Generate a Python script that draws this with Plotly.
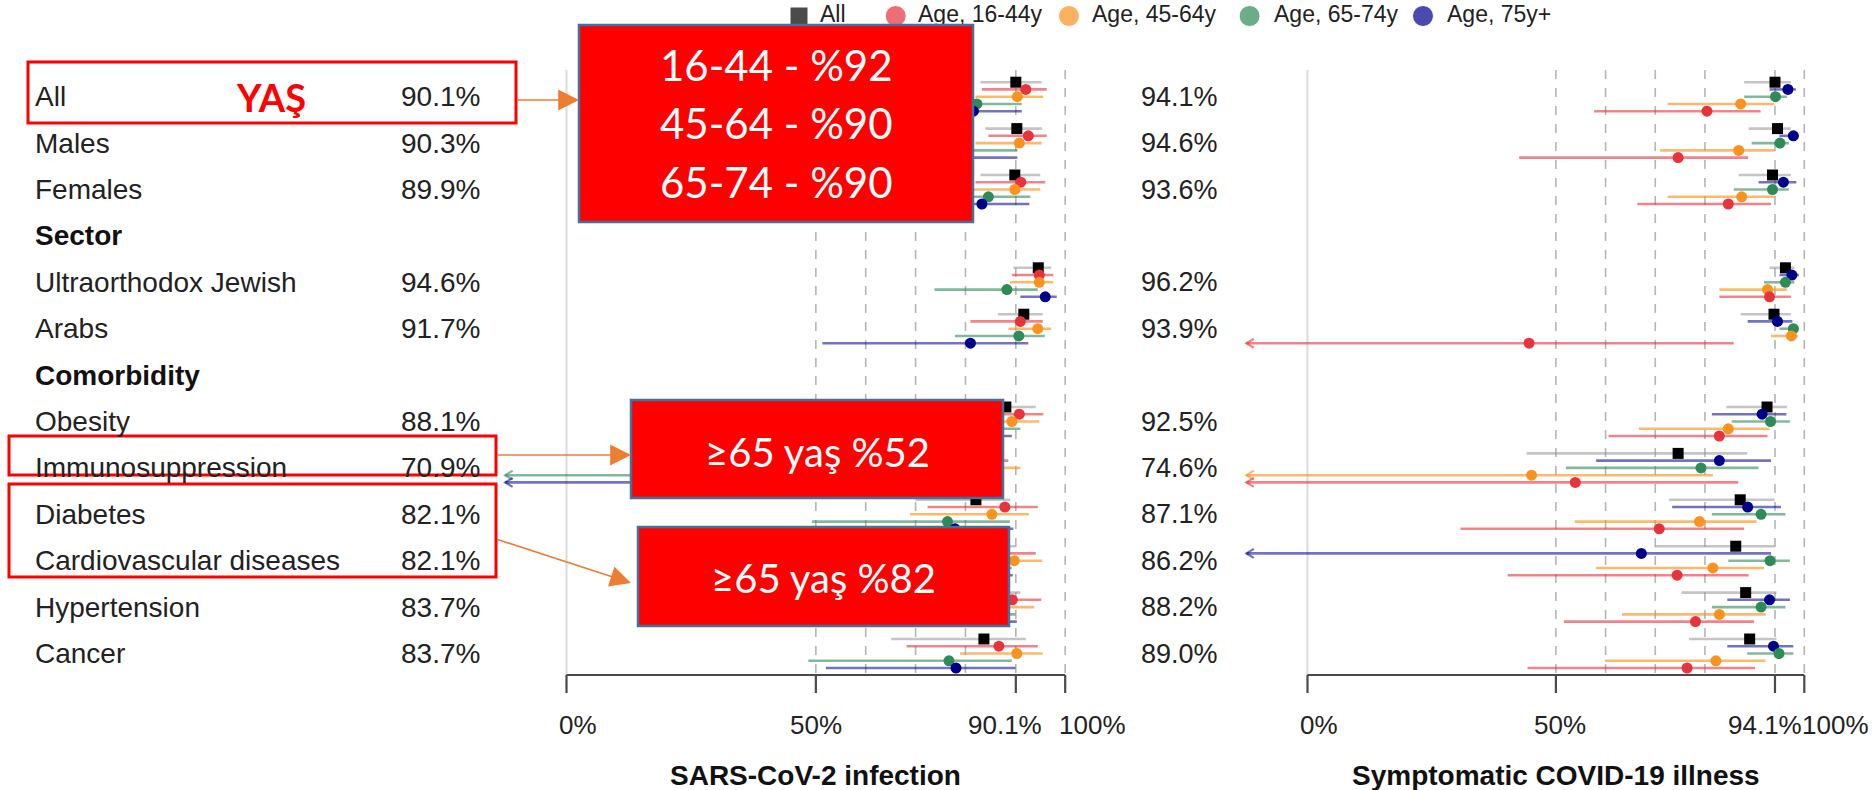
import plotly.graph_objects as go

# ---------------------------------------------------------------- data
ROWS = ["All", "Males", "Females", "Sector", "Ultraorthodox Jewish", "Arabs",
        "Comorbidity", "Obesity", "Immunosuppression", "Diabetes",
        "Cardiovascular diseases", "Hypertension", "Cancer"]
HEADERS = ["Sector", "Comorbidity"]
SUBGROUPS = [r for r in ROWS if r not in HEADERS]

GROUPS = ["All", "Age, 16-44y", "Age, 45-64y", "Age, 65-74y", "Age, 75y+"]

# SARS-CoV-2 infection (left panel)
inf_all = [90.1, 90.3, 89.9, 94.6, 91.7, 88.1, 70.9, 82.1, 82.1, 83.7, 83.7]
inf_all_lo = [83.0, 84.0, 83.0, 89.6, 86.5, 80.0, 45.0, 70.0, 68.0, 70.0, 65.1]
inf_all_hi = [95.3, 95.3, 95.0, 97.2, 95.5, 94.1, 84.0, 89.0, 90.0, 91.0, 92.1]

inf_16_44 = [92.1, 92.6, 91.1, 94.8, 91.0, 90.8, 80.0, 87.9, 87.0, 89.4, 86.7]
inf_16_44_lo = [83.3, 84.6, 82.0, 89.3, 81.0, 78.0, 60.0, 72.4, 70.0, 72.0, 68.2]
inf_16_44_hi = [96.3, 96.3, 96.0, 97.6, 95.5, 95.6, 88.6, 94.5, 94.1, 95.2, 94.5]

inf_45_64 = [90.4, 90.8, 89.9, 94.8, 94.5, 89.3, 82.0, 85.3, 89.8, 87.0, 90.3]
inf_45_64_lo = [82.0, 82.0, 80.0, 88.9, 88.6, 80.0, 65.0, 68.9, 78.0, 70.0, 78.9]
inf_45_64_hi = [95.6, 95.3, 95.0, 97.6, 97.2, 94.8, 91.0, 92.7, 95.4, 93.8, 95.5]

inf_65_74 = [82.3, 78.0, 84.6, 88.3, 90.7, 86.0, 52.0, 76.4, 80.0, 80.0, 76.7]
inf_65_74_lo = [70.0, 60.0, 72.0, 73.8, 77.9, 72.0, -40.0, 49.2, 50.0, 55.0, 48.5]
inf_65_74_hi = [91.3, 90.4, 93.0, 94.5, 95.9, 91.0, 80.0, 88.9, 89.3, 90.0, 89.3]

inf_75 = [81.6, 76.0, 83.3, 96.0, 81.0, 84.0, 48.0, 77.9, 78.0, 78.0, 78.1]
inf_75_lo = [65.0, 55.0, 70.0, 91.0, 51.3, 70.0, -45.0, 52.0, 52.0, 55.0, 52.0]
inf_75_hi = [91.3, 90.4, 92.8, 98.3, 92.6, 89.3, 78.0, 89.6, 89.5, 90.3, 90.0]

# Symptomatic COVID-19 illness (right panel)
sym_all = [94.1, 94.6, 93.6, 96.2, 93.9, 92.5, 74.6, 87.1, 86.2, 88.2, 89.0]
sym_all_lo = [87.9, 88.8, 86.8, 93.0, 87.2, 84.3, 44.1, 72.8, 70.0, 75.3, 76.8]
sym_all_hi = [97.3, 97.3, 97.3, 98.0, 97.3, 96.5, 88.5, 94.0, 94.0, 94.4, 94.4]

sym_16_44 = [80.4, 74.6, 84.7, 93.0, 44.6, 82.9, 53.9, 70.8, 74.4, 78.1, 76.4]
sym_16_44_lo = [57.7, 42.6, 66.4, 82.9, -60.0, 60.6, -30.0, 30.8, 40.3, 51.6, 44.3]
sym_16_44_hi = [91.2, 88.7, 93.3, 97.3, 85.8, 92.6, 86.7, 87.9, 88.8, 89.9, 90.1]

sym_45_64 = [87.2, 86.8, 87.4, 92.6, 97.4, 84.7, 45.1, 78.9, 81.6, 82.9, 82.2]
sym_45_64_lo = [72.5, 71.0, 72.5, 82.9, 93.3, 66.7, -40.0, 53.8, 58.1, 63.3, 59.9]
sym_45_64_hi = [94.0, 94.0, 94.0, 96.5, 98.7, 93.0, 81.6, 90.4, 91.9, 92.2, 92.2]

sym_65_74 = [94.2, 95.1, 93.6, 96.2, 97.8, 93.2, 79.2, 91.3, 93.1, 91.3, 94.9]
sym_65_74_lo = [87.9, 89.4, 85.8, 91.9, 95.0, 85.4, 52.0, 81.4, 84.7, 81.4, 88.5]
sym_65_74_hi = [96.5, 96.9, 96.9, 98.0, 98.9, 97.1, 90.8, 96.2, 97.1, 96.2, 97.8]

sym_75 = [96.7, 97.8, 95.8, 97.5, 94.6, 91.5, 82.9, 88.6, 67.2, 93.0, 93.8]
sym_75_lo = [93.0, 95.0, 90.8, 95.0, 88.6, 81.4, 58.1, 73.4, -20.0, 84.5, 84.5]
sym_75_hi = [98.3, 98.9, 98.4, 98.9, 97.6, 96.4, 93.3, 95.3, 93.3, 97.1, 97.8]

INF_TICKS = [0, 50, 90.1, 100]
INF_TICK_TEXT = ["0%", "50%", "90.1%", "100%"]
SYM_TICKS = [0, 50, 94.1, 100]
SYM_TICK_TEXT = ["0%", "50%", "94.1%", "100%"]
INF_GRID = [50, 60, 70, 80, 90.1, 100]
SYM_GRID = [50, 60, 70, 80, 94.1, 100]

# ---------------------------------------------------------------- style
W, H = 1875, 790
ROW_Y0, ROW_STEP = 96.7, 46.4          # pixel centre of first row, row pitch
AXIS_MIN = -12.3                       # lower CI truncation (arrow tip)
FONT = "Liberation Sans, Arial, sans-serif"
BOX_FONT = "Lato, Calibri, sans-serif"

MARKER_COL = {"All": "#000000", "Age, 16-44y": "#E8323C", "Age, 45-64y": "#F7931E",
              "Age, 65-74y": "#2E8B57", "Age, 75y+": "#00008B"}
LINE_COL = {"All": "rgba(150,150,150,0.55)", "Age, 16-44y": "rgba(232,50,60,0.6)",
            "Age, 45-64y": "rgba(247,147,30,0.65)", "Age, 65-74y": "rgba(46,139,87,0.6)",
            "Age, 75y+": "rgba(0,0,139,0.55)"}


def r2px(r):
    return ROW_Y0 + ROW_STEP * r


def px2r(y):
    return (y - ROW_Y0) / ROW_STEP


ROW_IDX = [ROWS.index(s) for s in SUBGROUPS]

panels = [
    dict(xa="x", est={"All": inf_all, "Age, 16-44y": inf_16_44, "Age, 45-64y": inf_45_64,
                      "Age, 65-74y": inf_65_74, "Age, 75y+": inf_75},
         lo={"All": inf_all_lo, "Age, 16-44y": inf_16_44_lo, "Age, 45-64y": inf_45_64_lo,
             "Age, 65-74y": inf_65_74_lo, "Age, 75y+": inf_75_lo},
         hi={"All": inf_all_hi, "Age, 16-44y": inf_16_44_hi, "Age, 45-64y": inf_45_64_hi,
             "Age, 65-74y": inf_65_74_hi, "Age, 75y+": inf_75_hi},
         order=["All", "Age, 16-44y", "Age, 45-64y", "Age, 65-74y", "Age, 75y+"],
         ticks=INF_TICKS, ticktext=INF_TICK_TEXT, grid=INF_GRID,
         tick_shift=[12, 0, -11, 27], title="SARS-CoV-2 infection",
         px0=566.5, ppu=4.987),
    dict(xa="x2", est={"All": sym_all, "Age, 16-44y": sym_16_44, "Age, 45-64y": sym_45_64,
                       "Age, 65-74y": sym_65_74, "Age, 75y+": sym_75},
         lo={"All": sym_all_lo, "Age, 16-44y": sym_16_44_lo, "Age, 45-64y": sym_45_64_lo,
             "Age, 65-74y": sym_65_74_lo, "Age, 75y+": sym_75_lo},
         hi={"All": sym_all_hi, "Age, 16-44y": sym_16_44_hi, "Age, 45-64y": sym_45_64_hi,
             "Age, 65-74y": sym_65_74_hi, "Age, 75y+": sym_75_hi},
         order=["All", "Age, 75y+", "Age, 65-74y", "Age, 45-64y", "Age, 16-44y"],
         ticks=SYM_TICKS, ticktext=SYM_TICK_TEXT, grid=SYM_GRID,
         tick_shift=[12, 4, -10, 31], title="Symptomatic COVID-19 illness",
         px0=1307.5, ppu=4.968),
]

X_RANGE = [-13, 106]

fig = go.Figure()
shapes, annotations = [], []

GRID_TOP = px2r(70)
BASE = px2r(675)
TICK_BOT = px2r(693)

for p in panels:
    xa = p["xa"]
    offsets = [-0.3125, -0.157, 0.0, 0.157, 0.3125]
    for k, g in enumerate(p["order"]):
        ys = [ROW_IDX[i] + offsets[k] for i in range(len(SUBGROUPS))]
        lx, ly, cx, cy = [], [], [], []
        chev_dx = 1.5 * 4.98 / p["ppu"]
        chev_dy = 4.5 / ROW_STEP
        for i, y in enumerate(ys):
            lo, hi = p["lo"][g][i], p["hi"][g][i]
            start = max(lo, AXIS_MIN)
            lx += [start, hi, None]
            ly += [y, y, None]
            if lo < AXIS_MIN:
                cx += [AXIS_MIN + chev_dx, AXIS_MIN, AXIS_MIN + chev_dx, None]
                cy += [y - chev_dy, y, y + chev_dy, None]
        fig.add_trace(go.Scatter(x=lx, y=ly, mode="lines", xaxis=xa, yaxis="y",
                                 line=dict(color=LINE_COL[g], width=2.6),
                                 hoverinfo="skip", showlegend=False))
        if cx:
            fig.add_trace(go.Scatter(x=cx, y=cy, mode="lines", xaxis=xa, yaxis="y",
                                     line=dict(color=LINE_COL[g], width=2.2),
                                     hoverinfo="skip", showlegend=False))
        fig.add_trace(go.Scatter(
            x=p["est"][g], y=ys, mode="markers", xaxis=xa, yaxis="y", name=g,
            marker=dict(color=MARKER_COL[g], size=11,
                        symbol="square" if g == "All" else "circle"),
            showlegend=False, cliponaxis=False))

    # zero line and dashed reference lines
    shapes.append(dict(type="line", xref=xa, yref="y", x0=0, x1=0, y0=GRID_TOP, y1=BASE,
                       line=dict(color="#DADADA", width=2), layer="below"))
    for gx in p["grid"]:
        shapes.append(dict(type="line", xref=xa, yref="y", x0=gx, x1=gx, y0=GRID_TOP,
                           y1=BASE, line=dict(color="#B5B5B5", width=1.6, dash="dash"),
                           layer="below"))
    # axis baseline and ticks
    shapes.append(dict(type="line", xref=xa, yref="y", x0=0, x1=100, y0=BASE, y1=BASE,
                       line=dict(color="#4A4A4A", width=2.2)))
    for t, txt, sh in zip(p["ticks"], p["ticktext"], p["tick_shift"]):
        shapes.append(dict(type="line", xref=xa, yref="y", x0=t, x1=t, y0=BASE,
                           y1=TICK_BOT, line=dict(color="#4A4A4A", width=2.2)))
        annotations.append(dict(xref=xa, yref="y", x=t, y=px2r(725), text=txt,
                                showarrow=False, xshift=sh,
                                font=dict(family=FONT, size=26, color="#222")))
    annotations.append(dict(xref=xa, yref="y", x=50, y=px2r(775),
                            text="<b>" + p["title"] + "</b>", showarrow=False,
                            font=dict(family=FONT, size=28, color="#111")))

# row labels and overall effectiveness columns
for r, name in enumerate(ROWS):
    bold = name in HEADERS
    annotations.append(dict(xref="x3", yref="y3", x=33, y=r2px(r),
                            text=f"<b>{name}</b>" if bold else name,
                            xanchor="left", showarrow=False,
                            font=dict(family=FONT, size=28, color="#111" if bold else "#222")))
for i, name in enumerate(SUBGROUPS):
    y = r2px(ROWS.index(name))
    annotations.append(dict(xref="x3", yref="y3", x=482, y=y, text=f"{inf_all[i]:.1f}%",
                            xanchor="right", showarrow=False,
                            font=dict(family=FONT, size=28, color="#222")))
    annotations.append(dict(xref="x3", yref="y3", x=1220, y=y, text=f"{sym_all[i]:.1f}%",
                            xanchor="right", showarrow=False,
                            font=dict(family=FONT, size=27, color="#222")))

# legend row
LEG_X = [799, 895.7, 1069, 1249.6, 1423]
LEG_TX = [820, 918, 1092, 1274, 1447]
LEG_Y = 16
fig.add_trace(go.Scatter(
    x=LEG_X, y=[LEG_Y] * 5, mode="markers", xaxis="x3", yaxis="y3",
    marker=dict(color=[MARKER_COL[g] for g in GROUPS], size=[18, 21, 21, 21, 21],
                symbol=["square", "circle", "circle", "circle", "circle"]),
    hoverinfo="skip", showlegend=False))
fig.add_trace(go.Scatter(
    x=LEG_TX, y=[LEG_Y] * 5, mode="text", xaxis="x3", yaxis="y3", text=GROUPS,
    textposition="middle right", textfont=dict(family=FONT, size=23, color="#222"),
    hoverinfo="skip", showlegend=False))

# highlight frames around rows
for (x0, y0, x1, y1) in [(28, 62, 516, 123), (9, 436, 496, 475), (9, 484, 496, 577)]:
    shapes.append(dict(type="rect", xref="x3", yref="y3", x0=x0, y0=y0, x1=x1, y1=y1,
                       line=dict(color="#FF0000", width=3), fillcolor="rgba(0,0,0,0)",
                       layer="above"))
annotations.append(dict(xref="x3", yref="y3", x=271, y=97, text="<b>YAŞ</b>",
                        showarrow=False, font=dict(family=BOX_FONT, size=38, color="#FF0000")))

# callout boxes
for (x0, y0, x1, y1) in [(579, 25, 973, 222), (631, 400, 1003, 498), (638, 527, 1009, 626)]:
    shapes.append(dict(type="rect", xref="x3", yref="y3", x0=x0, y0=y0, x1=x1, y1=y1,
                       line=dict(color="#41719C", width=2.5), fillcolor="#FF0000",
                       layer="above"))
for txt, y in [("16-44 - %92", 65), ("45-64 - %90", 123), ("65-74 - %90", 182)]:
    annotations.append(dict(xref="x3", yref="y3", x=776, y=y, text=txt, showarrow=False,
                            font=dict(family=BOX_FONT, size=42, color="white")))
annotations.append(dict(xref="x3", yref="y3", x=817, y=452, text="≥65 yaş %52",
                        showarrow=False, font=dict(family=BOX_FONT, size=40, color="white")))
annotations.append(dict(xref="x3", yref="y3", x=823, y=578, text="≥65 yaş %82",
                        showarrow=False, font=dict(family=BOX_FONT, size=40, color="white")))

# connector arrows
for (ax, ay, x, y) in [(516, 100, 579, 100), (496, 455, 631, 455), (496, 539, 631, 583)]:
    annotations.append(dict(xref="x3", yref="y3", axref="x3", ayref="y3", x=x, y=y,
                            ax=ax, ay=ay, text="", showarrow=True, arrowhead=2,
                            arrowsize=2.6, arrowwidth=1.6, arrowcolor="#ED7D31"))


def dom(px0, ppu):
    return [(px0 + X_RANGE[0] * ppu) / W, (px0 + X_RANGE[1] * ppu) / W]


hidden = dict(visible=False, showgrid=False, zeroline=False, fixedrange=True)
fig.update_layout(
    width=W, height=H, margin=dict(l=0, r=0, t=0, b=0, pad=0),
    paper_bgcolor="white", plot_bgcolor="rgba(0,0,0,0)", showlegend=False,
    xaxis=dict(domain=dom(panels[0]["px0"], panels[0]["ppu"]), range=X_RANGE,
               anchor="y", **hidden),
    xaxis2=dict(domain=dom(panels[1]["px0"], panels[1]["ppu"]), range=X_RANGE,
                anchor="y", **hidden),
    yaxis=dict(domain=[0, 1], range=[px2r(H), px2r(0)], anchor="x", **hidden),
    xaxis3=dict(domain=[0, 1], range=[0, W], anchor="y3", **hidden),
    yaxis3=dict(domain=[0, 1], range=[H, 0], anchor="x3", **hidden),
    shapes=shapes, annotations=annotations,
)

fig.write_html("out.html")
